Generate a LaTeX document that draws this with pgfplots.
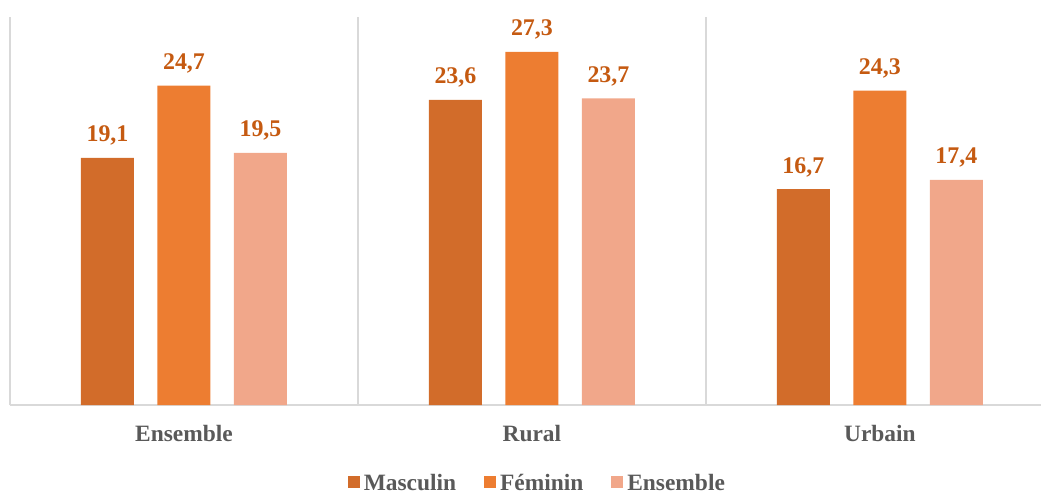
\documentclass[border=0pt]{standalone}
\usepackage{pgfplots}
\pgfplotsset{compat=1.18}
\usepackage{fontspec}
\setmainfont{Liberation Serif}
\definecolor{cMas}{RGB}{210,108,42}
\definecolor{cFem}{RGB}{237,125,49}
\definecolor{cEns}{RGB}{241,167,138}
\definecolor{cLab}{RGB}{197,90,17}
\definecolor{cTxt}{RGB}{89,89,89}
\definecolor{cGrid}{RGB}{217,217,217}
\begin{document}
\begin{tikzpicture}
\useasboundingbox (-10bp,-89bp) rectangle (1031bp,405bp);
\begin{axis}[
  at={(0,0)}, anchor=south west,
  scale only axis, width=1031bp, height=388bp,
  xmin=-0.5, xmax=2.463, ymin=0, ymax=30,
  ybar=23.5bp, bar width=53bp,
  axis y line=none,
  axis x line*=bottom,
  x axis line style={-, cGrid, line width=1.5bp},
  xtick={0,1,2}, xticklabels={Ensemble,Rural,Urbain},
  major tick length=0pt,
  xticklabel style={font=\fontsize{23.5}{28}\selectfont\bfseries, text=cTxt, anchor=base, yshift=-36bp},
  extra x ticks={-0.5,0.5,1.5},
  extra x tick labels={},
  extra x tick style={grid=major, major grid style={cGrid, line width=1.5bp}, major tick length=0pt},
  ytick=\empty,
  nodes near coords,
  /pgf/number format/.cd, use comma, fixed, fixed zerofill, precision=1, assume math mode=true,
  /pgfplots/.cd,
  every node near coord/.append style={font=\fontsize{24}{28}\selectfont\bfseries, text=cLab, anchor=base, yshift=16bp},
  legend columns=3,
  legend style={draw=none, fill=none, at={(0.511,-0.199)}, anchor=center,
    font=\fontsize{23.5}{28}\selectfont\bfseries, text=cTxt,
    /tikz/every odd column/.append style={column sep=3bp},
    /tikz/every even column/.append style={column sep=27bp},
    nodes={inner sep=1bp, text depth=0pt}},
  legend image code/.code={\fill[#1] (0bp,-6bp) rectangle (12bp,6bp);},
  clip=false,
]
\addplot[fill=cMas, draw=none] coordinates {(0,19.1) (1,23.6) (2,16.7)};
\addplot[fill=cFem, draw=none] coordinates {(0,24.7) (1,27.3) (2,24.3)};
\addplot[fill=cEns, draw=none] coordinates {(0,19.5) (1,23.7) (2,17.4)};
\legend{Masculin,Féminin,Ensemble}
\end{axis}
\end{tikzpicture}
\end{document}
